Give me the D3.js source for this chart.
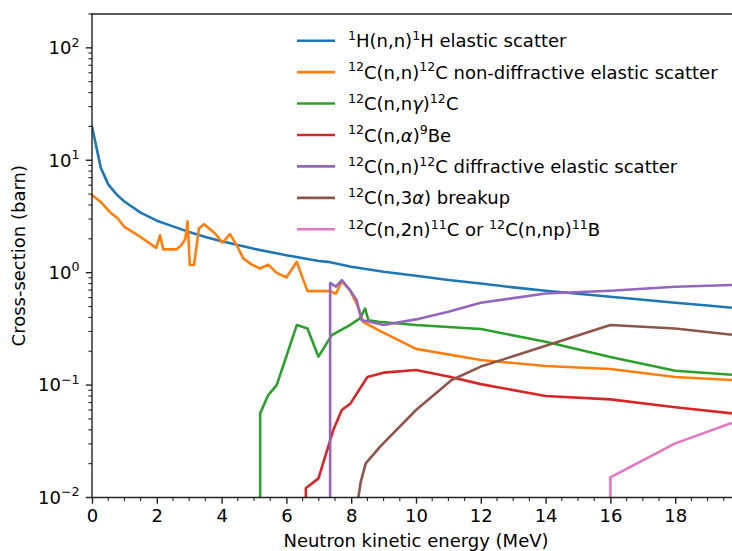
<!DOCTYPE html>
<html>
<head>
<meta charset="utf-8">
<script src="https://cdn.jsdelivr.net/npm/d3@7"></script>
<style>
  html, body { margin: 0; padding: 0; background: #fff; }
  svg { display: block; }
  text { font-family: "DejaVu Sans", sans-serif; fill: #000; }
</style>
</head>
<body>
<svg id="chart" width="732" height="551"></svg>
<script>
// Neutron cross-sections on hydrogen and carbon, energy in MeV, sigma in barn.
const energyH  = [0, 0.27, 0.5, 0.75, 1, 1.5, 2, 2.5, 3, 3.5, 4, 5, 6, 7, 7.35, 8, 9, 10, 11, 12, 13, 14, 15, 16, 17, 18, 19, 20];
const sigmaH   = [20, 8.6, 6.1, 5.0, 4.3, 3.42, 2.9, 2.58, 2.3, 2.08, 1.9, 1.63, 1.43, 1.27, 1.24, 1.13, 1.02, 0.94, 0.86, 0.80, 0.74, 0.69, 0.65, 0.61, 0.575, 0.54, 0.51, 0.48];

const energyCn = [0, 0.29, 0.55, 0.8, 1.0, 1.42, 1.98, 2.1, 2.2, 2.6, 2.76, 2.88, 2.95, 3.02, 3.15, 3.3, 3.46, 3.8, 4.03, 4.26, 4.47, 4.67, 4.93, 5.19, 5.44, 5.7, 6.0, 6.32, 6.65, 7.35, 7.53, 7.71, 7.96, 8.17, 8.37, 8.84, 10, 12, 14, 16, 18, 20];
const sigmaCn  = [4.9, 4.2, 3.47, 3.03, 2.55, 2.15, 1.66, 2.15, 1.61, 1.61, 1.75, 2.0, 2.87, 1.17, 1.17, 2.47, 2.70, 2.23, 1.85, 2.2, 1.75, 1.34, 1.18, 1.09, 1.18, 0.995, 0.906, 1.25, 0.685, 0.685, 0.65, 0.84, 0.70, 0.53, 0.366, 0.308, 0.21, 0.167, 0.148, 0.139, 0.118, 0.11];

const energyNG = [5.19, 5.19, 5.44, 5.7, 5.96, 6.32, 6.65, 6.99, 7.4, 7.96, 8.27, 8.43, 8.53, 8.84, 10, 12, 14, 16, 18, 20];
const sigmaNG  = [0.01, 0.056, 0.0815, 0.1, 0.167, 0.342, 0.319, 0.179, 0.278, 0.342, 0.392, 0.48, 0.378, 0.366, 0.342, 0.315, 0.243, 0.178, 0.134, 0.122];

const energyNA = [6.6, 6.6, 6.99, 7.45, 7.71, 7.98, 8.5, 9, 10, 11, 12, 14, 16, 18, 20];
const sigmaNA  = [0.01, 0.0121, 0.0148, 0.04, 0.06, 0.0687, 0.118, 0.129, 0.136, 0.119, 0.102, 0.08, 0.0746, 0.0634, 0.055];

const energyDiff = [7.35, 7.35, 7.53, 7.71, 7.96, 8.17, 8.32, 8.58, 9, 10, 11, 12, 14, 16, 18, 20];
const sigmaDiff  = [0.01, 0.81, 0.75, 0.86, 0.70, 0.57, 0.378, 0.366, 0.342, 0.384, 0.45, 0.54, 0.653, 0.69, 0.75, 0.78];

const energy3a = [8.22, 8.3, 8.45, 8.9, 10, 11.1, 12, 16, 18, 20];
const sigma3a  = [0.01, 0.014, 0.0201, 0.0285, 0.06, 0.111, 0.146, 0.342, 0.319, 0.275];

const energy2n = [16, 16, 18, 20];
const sigma2n  = [0.01, 0.0151, 0.0303, 0.049];

const seriesLabels = [
  "^{1}H(n,n)^{1}H elastic scatter",
  "^{12}C(n,n)^{12}C non-diffractive elastic scatter",
  "^{12}C(n,nγ)^{12}C",
  "^{12}C(n,α)^{9}Be",
  "^{12}C(n,n)^{12}C diffractive elastic scatter",
  "^{12}C(n,3α) breakup",
  "^{12}C(n,2n)^{11}C or ^{12}C(n,np)^{11}B"
];
const seriesColors = ["#1f77b4", "#ff7f0e", "#2ca02c", "#d62728", "#9467bd", "#8c564b", "#e377c2"];

const xTicks = [0, 2, 4, 6, 8, 10, 12, 14, 16, 18];
const yTickExponents = [-2, -1, 0, 1, 2];

const seriesData = [
  [energyH, sigmaH], [energyCn, sigmaCn], [energyNG, sigmaNG], [energyNA, sigmaNA],
  [energyDiff, sigmaDiff], [energy3a, sigma3a], [energy2n, sigma2n]
].map(([e, s]) => e.map((v, i) => ({ x: v, y: s[i] })));

// Layout
const FS = 18;
const plotLeft = 92, plotRight = 740, plotTop = 14, plotBottom = 497.5;

const svg = d3.select("#chart");
const x = d3.scaleLinear().domain([0, 20]).range([plotLeft, plotRight]);
const y = d3.scaleLog().domain([0.01, 200]).range([plotBottom, plotTop]);

svg.append("defs").append("clipPath").attr("id", "plot-clip")
  .append("rect").attr("x", plotLeft).attr("y", plotTop)
  .attr("width", plotRight - plotLeft).attr("height", plotBottom - plotTop);

// Series lines
const line = d3.line().x(d => x(d.x)).y(d => y(d.y));
const plot = svg.append("g").attr("clip-path", "url(#plot-clip)");
seriesData.forEach((pts, i) => {
  plot.append("path")
    .datum(pts)
    .attr("d", line)
    .attr("fill", "none")
    .attr("stroke", seriesColors[i])
    .attr("stroke-width", 2.6)
    .attr("stroke-linejoin", "round")
    .attr("stroke-linecap", "square");
});

// Axes
const spineColor = "#222";
const xAxis = d3.axisBottom(x).tickValues(xTicks).tickSize(6.2).tickPadding(5.5).tickFormat(d3.format("d"));
const gx = svg.append("g").attr("transform", `translate(0,${plotBottom})`).call(xAxis);
gx.select(".domain").remove();
gx.selectAll(".tick line").attr("stroke", spineColor).attr("stroke-width", 1.4);
gx.selectAll(".tick text").style("font-size", FS + "px").style("font-family", "DejaVu Sans").attr("fill", "#000");

// x minor ticks every 0.5
const xMinor = d3.range(0, 20.01, 0.5).filter(v => !xTicks.includes(v));
svg.append("g").selectAll("line").data(xMinor).join("line")
  .attr("x1", d => x(d)).attr("x2", d => x(d))
  .attr("y1", plotBottom).attr("y2", plotBottom + 3.6)
  .attr("stroke", spineColor).attr("stroke-width", 1.1);

// y axis: major ticks at decades with power-of-ten labels
const gy = svg.append("g");
yTickExponents.forEach(p => {
  const yy = y(Math.pow(10, p));
  gy.append("line").attr("x1", plotLeft - 6.2).attr("x2", plotLeft).attr("y1", yy).attr("y2", yy)
    .attr("stroke", spineColor).attr("stroke-width", 1.4);
  const t = gy.append("text").attr("x", plotLeft - 12.5).attr("y", yy + 6.3)
    .attr("text-anchor", "end").style("font-size", FS + "px");
  t.append("tspan").text("10");
  t.append("tspan").attr("dy", -7.6).style("font-size", (FS * 0.7) + "px")
    .text(p < 0 ? "\u2212" + Math.abs(p) : String(p));
});
// y minor ticks
const yMinor = [];
for (let p = -2; p <= 2; p++) for (let m = 2; m <= 9; m++) {
  const v = m * Math.pow(10, p);
  if (v <= 200) yMinor.push(v);
}
gy.selectAll("line.minor").data(yMinor).join("line").attr("class", "minor")
  .attr("x1", plotLeft - 3.6).attr("x2", plotLeft).attr("y1", d => y(d)).attr("y2", d => y(d))
  .attr("stroke", spineColor).attr("stroke-width", 1.1);

// Spines
[[plotLeft, plotTop, plotLeft, plotBottom], [plotLeft, plotBottom, plotRight, plotBottom],
 [plotLeft, plotTop, plotRight, plotTop], [plotRight, plotTop, plotRight, plotBottom]]
  .forEach(([x1, y1, x2, y2]) => {
    svg.append("line").attr("x1", x1).attr("y1", y1).attr("x2", x2).attr("y2", y2)
      .attr("stroke", spineColor).attr("stroke-width", 1.4).attr("stroke-linecap", "square");
  });

// Axis labels
svg.append("text").attr("x", (plotLeft + plotRight) / 2).attr("y", 546.5)
  .attr("text-anchor", "middle").style("font-size", FS + "px")
  .text("Neutron kinetic energy (MeV)");
svg.append("text").attr("transform", `translate(25,${(plotTop + plotBottom) / 2}) rotate(-90)`)
  .attr("text-anchor", "middle").style("font-size", FS + "px")
  .text("Cross-section (barn)");

// Legend: label markup uses ^{...} for superscripts; Greek letters set in italic
function addRichText(sel, label) {
  const parts = [];
  const re = /\^\{([^}]*)\}/g;
  let last = 0, m;
  while ((m = re.exec(label)) !== null) {
    if (m.index > last) parts.push({ t: label.slice(last, m.index), sup: false });
    parts.push({ t: m[1], sup: true });
    last = re.lastIndex;
  }
  if (last < label.length) parts.push({ t: label.slice(last), sup: false });
  let raised = false;
  parts.forEach(p => {
    if (p.sup) {
      sel.append("tspan").attr("dy", raised ? 0 : -7.3).style("font-size", (FS * 0.7) + "px").text(p.t);
      raised = true;
    } else {
      p.t.split(/([αγ])/).filter(s => s.length).forEach((s, k) => {
        const ts = sel.append("tspan").text(s);
        if (raised && k === 0) ts.attr("dy", 7.3);
        if (/[αγ]/.test(s)) ts.style("font-style", "italic");
      });
      raised = false;
    }
  });
}

const legend = svg.append("g");
seriesLabels.forEach((lab, i) => {
  const ly = 40.7 + i * 31.43;
  legend.append("line").attr("x1", 297).attr("x2", 335).attr("y1", ly).attr("y2", ly)
    .attr("stroke", seriesColors[i]).attr("stroke-width", 2.6);
  const t = legend.append("text").attr("x", 348).attr("y", ly + 6.6).style("font-size", FS + "px");
  addRichText(t, lab);
});
</script>
</body>
</html>
